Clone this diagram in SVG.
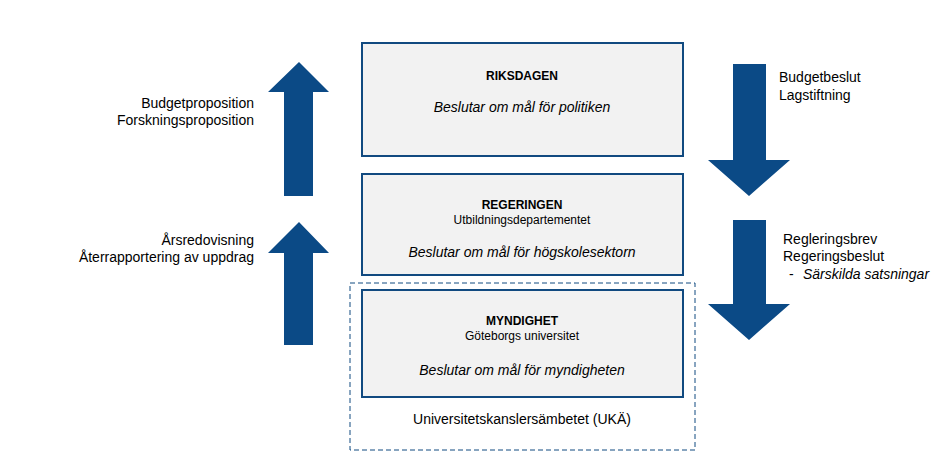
<svg xmlns="http://www.w3.org/2000/svg" width="947" height="464" viewBox="0 0 947 464">
<style>
.box{fill:#f2f2f2;stroke:#114a80;stroke-width:2}
.arr{fill:#0b4a86}
text{font-family:"Liberation Sans",Arial,sans-serif;fill:#000}
.t{font-size:12px;font-weight:bold}
.s{font-size:12px}
.i{font-size:14px;font-style:italic}
.l{font-size:14px}
</style>
<rect width="947" height="464" fill="#fff"/>
<g id="connectors">
<polygon class="arr" points="299,62 329,92 313,92 313,196 284,196 284,92 268,92"/>
<polygon class="arr" points="299,222 329,253 313,253 313,345 284,345 284,253 268,253"/>
<polygon class="arr" points="733,64 766,64 766,160 790,160 749,196 708,160 733,160"/>
<polygon class="arr" points="733,220 766,220 766,304 790,304 749,340 708,304 733,304"/>
</g>
<g id="riksdagen">
<rect class="box" x="362" y="43" width="321" height="113"/>
<text class="t" x="522" y="80" text-anchor="middle">RIKSDAGEN</text>
<text class="i" x="522" y="112" text-anchor="middle">Beslutar om mål för politiken</text>
</g>
<g id="regeringen">
<rect class="box" x="362" y="174" width="321" height="101"/>
<text class="t" x="522" y="209" text-anchor="middle">REGERINGEN</text>
<text class="s" x="522" y="224" text-anchor="middle">Utbildningsdepartementet</text>
<text class="i" x="522" y="257" text-anchor="middle">Beslutar om mål för högskolesektorn</text>
</g>
<g id="uka">
<rect x="350" y="283" width="345" height="167" fill="none" stroke="#114a80" stroke-width="1" stroke-dasharray="5,3"/>
<text class="l" x="522" y="424" text-anchor="middle">Universitetskanslersämbetet (UKÄ)</text>
</g>
<g id="myndighet">
<rect class="box" x="362" y="290" width="321" height="107"/>
<text class="t" x="522" y="325" text-anchor="middle">MYNDIGHET</text>
<text class="s" x="522" y="340" text-anchor="middle">Göteborgs universitet</text>
<text class="i" x="522" y="375" text-anchor="middle">Beslutar om mål för myndigheten</text>
</g>
<g id="labels">
<text class="l" x="254" y="108" text-anchor="end">Budgetproposition</text>
<text class="l" x="254" y="125" text-anchor="end">Forskningsproposition</text>
<text class="l" x="254" y="245" text-anchor="end">Årsredovisning</text>
<text class="l" x="254" y="262" text-anchor="end">Återrapportering av uppdrag</text>
<text class="l" x="779" y="82">Budgetbeslut</text>
<text class="l" x="779" y="100">Lagstiftning</text>
<text class="l" x="783" y="244">Regleringsbrev</text>
<text class="l" x="783" y="261">Regeringsbeslut</text>
<text class="l" x="789" y="279">-</text>
<text class="i" x="803" y="279">Särskilda satsningar</text>
</g>
</svg>
